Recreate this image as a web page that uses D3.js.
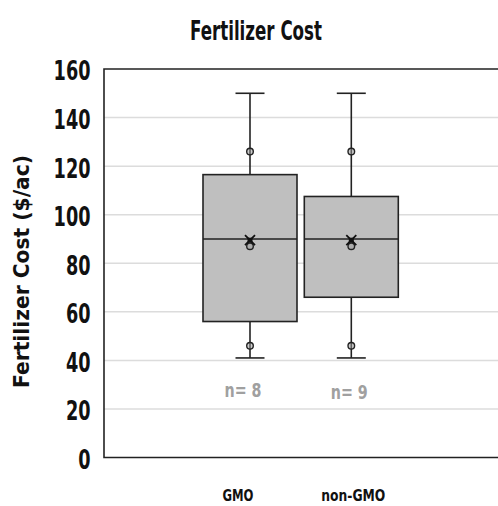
<!DOCTYPE html>
<html>
<head>
<meta charset="utf-8">
<script src="https://cdn.jsdelivr.net/npm/d3@7"></script>
<style>
  html, body { margin: 0; padding: 0; background: #fff; }
  svg { display: block; }
  text { font-family: "DejaVu Sans Condensed", "Liberation Sans Narrow", sans-serif; font-weight: bold; }
</style>
</head>
<body>
<svg id="chart" width="498" height="506"></svg>
<script>
// ---- data ----
const categories = ["GMO", "non-GMO"];
const whiskerLow = [41, 41];
const q1 = [56, 66];
const medians = [90, 90];
const q3 = [116.5, 107.5];
const whiskerHigh = [150, 150];
const means = [89.5, 89.5];
const innerPoints = [[46, 87, 126], [46, 87, 126]];
const counts = [8, 9];
const yTicks = [0, 20, 40, 60, 80, 100, 120, 140, 160];
const title = "Fertilizer Cost";
const yTitle = "Fertilizer Cost ($/ac)";

// ---- layout ----
const svg = d3.select("#chart");
const plotLeft = 104, plotRight = 500, plotTop = 69, plotBottom = 457.5;

const y = d3.scaleLinear().domain([0, 160]).range([plotBottom, plotTop]);
const x = d3.scalePoint().domain(categories).range([250, 351.3]);
const boxW = 94, capW = 29;

// gridlines
svg.append("g").selectAll("line").data(yTicks.filter(d => d > 0 && d < 160)).join("line")
  .attr("x1", plotLeft).attr("x2", plotRight)
  .attr("y1", d => y(d)).attr("y2", d => y(d))
  .attr("stroke", "#dcdcdc").attr("stroke-width", 1.5);

// frame (top, left, bottom)
svg.append("path")
  .attr("d", `M${plotRight},${plotTop}H${plotLeft}V${plotBottom}H${plotRight}`)
  .attr("fill", "none").attr("stroke", "#222").attr("stroke-width", 1.6);

// y axis labels
const yAxis = d3.axisLeft(y).tickValues(yTicks).tickSize(0).tickPadding(0);
const gy = svg.append("g").attr("transform", `translate(${plotLeft - 13.5},0)`).call(yAxis);
gy.select(".domain").remove();
gy.selectAll("text")
  .attr("font-size", 26).attr("fill", "#111")
  .style("font-family", '"DejaVu Sans Condensed", "Liberation Sans Narrow", sans-serif')
  .style("font-weight", "bold")
  .attr("dy", "0.42em")
  .attr("textLength", d => String(d).length * 12.3)
  .attr("lengthAdjust", "spacingAndGlyphs");

// boxes
const g = svg.append("g");
categories.forEach((c, i) => {
  const cx = x(c);
  const stroke = "#222";
  g.append("line").attr("x1", cx).attr("x2", cx).attr("y1", y(whiskerHigh[i])).attr("y2", y(q3[i]))
    .attr("stroke", stroke).attr("stroke-width", 1.6);
  g.append("line").attr("x1", cx).attr("x2", cx).attr("y1", y(q1[i])).attr("y2", y(whiskerLow[i]))
    .attr("stroke", stroke).attr("stroke-width", 1.6);
  [whiskerHigh[i], whiskerLow[i]].forEach(v => {
    g.append("line").attr("x1", cx - capW / 2).attr("x2", cx + capW / 2).attr("y1", y(v)).attr("y2", y(v))
      .attr("stroke", stroke).attr("stroke-width", 1.6);
  });
  g.append("rect").attr("x", cx - boxW / 2).attr("width", boxW)
    .attr("y", y(q3[i])).attr("height", y(q1[i]) - y(q3[i]))
    .attr("fill", "#bfbfbf").attr("stroke", stroke).attr("stroke-width", 1.6);
  g.append("line").attr("x1", cx - boxW / 2).attr("x2", cx + boxW / 2)
    .attr("y1", y(medians[i])).attr("y2", y(medians[i]))
    .attr("stroke", stroke).attr("stroke-width", 1.6);
  innerPoints[i].forEach(v => {
    g.append("circle").attr("cx", cx).attr("cy", y(v)).attr("r", 3.3)
      .attr("fill", "#999").attr("fill-opacity", 0.5).attr("stroke", stroke).attr("stroke-width", 1.4);
  });
  const my = y(means[i]), s = 5;
  g.append("path").attr("d", `M${cx - s},${my - s}L${cx + s},${my + s}M${cx - s},${my + s}L${cx + s},${my - s}`)
    .attr("stroke", "#111").attr("stroke-width", 1.8);
  g.append("rect").attr("x", cx - 2.5).attr("y", my - 2.5).attr("width", 5).attr("height", 5).attr("fill", "#111");
});

// n labels
const nOffsets = [-7, -2];
const nVals = [28, 27];
svg.append("g").selectAll("text").data(categories).join("text")
  .attr("x", (c, i) => x(c) + nOffsets[i])
  .attr("y", (c, i) => y(nVals[i]))
  .attr("dy", "0.36em")
  .attr("text-anchor", "middle")
  .attr("font-size", 20).attr("fill", "#a0a0a0")
  .attr("textLength", 37).attr("lengthAdjust", "spacingAndGlyphs")
  .text((c, i) => "n= " + counts[i]);

// x category labels
const xLabelOffsets = [-12, 2];
const xLabelWidths = [31, 64];
svg.append("g").selectAll("text").data(categories).join("text")
  .attr("x", (c, i) => x(c) + xLabelOffsets[i])
  .attr("y", 501)
  .attr("text-anchor", "middle")
  .attr("font-size", 16).attr("fill", "#111")
  .attr("textLength", (c, i) => xLabelWidths[i]).attr("lengthAdjust", "spacingAndGlyphs")
  .text(d => d);

// title
svg.append("text").attr("x", 256).attr("y", 39.5).attr("text-anchor", "middle")
  .attr("font-size", 27).attr("fill", "#111")
  .attr("textLength", 132).attr("lengthAdjust", "spacingAndGlyphs")
  .text(title);

// y title
svg.append("text").attr("transform", `translate(29,271.5) rotate(-90)`)
  .attr("text-anchor", "middle").attr("font-size", 21).attr("fill", "#111")
  .attr("textLength", 233).attr("lengthAdjust", "spacingAndGlyphs")
  .text(yTitle);
</script>
</body>
</html>
